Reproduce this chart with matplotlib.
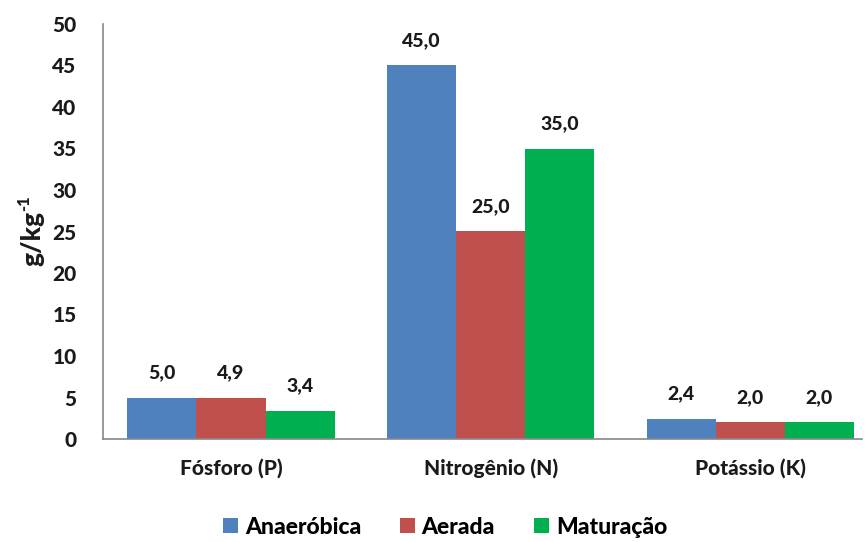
import matplotlib
matplotlib.use("Agg")
import matplotlib.pyplot as plt
import numpy as np

categories = ["Fósforo (P)", "Nitrogênio (N)", "Potássio (K)"]
series_names = ["Anaeróbica", "Aerada", "Maturação"]
anaerobica = [5.0, 45.0, 2.4]
aerada = [4.9, 25.0, 2.0]
maturacao = [3.4, 35.0, 2.0]
colors = ["#4F81BD", "#C0504D", "#00B050"]
y_ticks = [0, 5, 10, 15, 20, 25, 30, 35, 40, 45, 50]

plt.rcParams["font.family"] = ["Lato", "DejaVu Sans"]
plt.rcParams["font.weight"] = "black"
WT = "black"

W, H = 868, 542
fig = plt.figure(figsize=(W / 100, H / 100), dpi=100)
ax = fig.add_axes([103 / W, 1 - 439 / H, (862 - 103) / W, (439 - 24) / H])

x = np.arange(len(categories))
bw = 0.266
for i, (vals, name, c) in enumerate(zip([anaerobica, aerada, maturacao], series_names, colors)):
    pos = x + (i - 1) * bw
    ax.bar(pos, vals, width=bw, color=c, label=name)
    for xp, v in zip(pos, vals):
        ax.annotate(f"{v:.1f}".replace(".", ","), (xp, v), xytext=(0, 12),
                    textcoords="offset points", ha="center", va="bottom",
                    fontsize=14, fontweight=WT, color="#1a1a1a")

ax.set_xlim(-0.493, 2.43)
ax.set_ylim(0, 50)
ax.set_yticks(y_ticks)
ax.set_yticklabels([str(t) for t in y_ticks], fontsize=15, fontweight=WT)
ax.set_xticks(x)
ax.set_xticklabels(categories, fontsize=15, fontweight=WT)
ax.tick_params(axis="both", length=0, pad=14, colors="#1a1a1a")
ax.tick_params(axis="y", pad=19)
for s in ["top", "right"]:
    ax.spines[s].set_visible(False)
for s in ["left", "bottom"]:
    ax.spines[s].set_color("#888888")
    ax.spines[s].set_linewidth(1.2)

# y-axis title with a small superscript exponent
fig.text(32 / W, 1 - 238 / H, "g/kg", rotation=90, ha="center", va="center",
         fontsize=19, fontweight=WT, color="#1a1a1a")
fig.text(24 / W, 1 - 203 / H, "-1", rotation=90, ha="center", va="center",
         fontsize=12, fontweight=WT, color="#1a1a1a")

fig.legend(loc="center", bbox_to_anchor=(445 / W, 1 - 527 / H), ncol=3, frameon=False,
           prop={"size": 16.5, "weight": WT}, handlelength=0.65, handleheight=0.65,
           handletextpad=0.3, columnspacing=1.7)

fig.savefig("out.png", dpi=100)
